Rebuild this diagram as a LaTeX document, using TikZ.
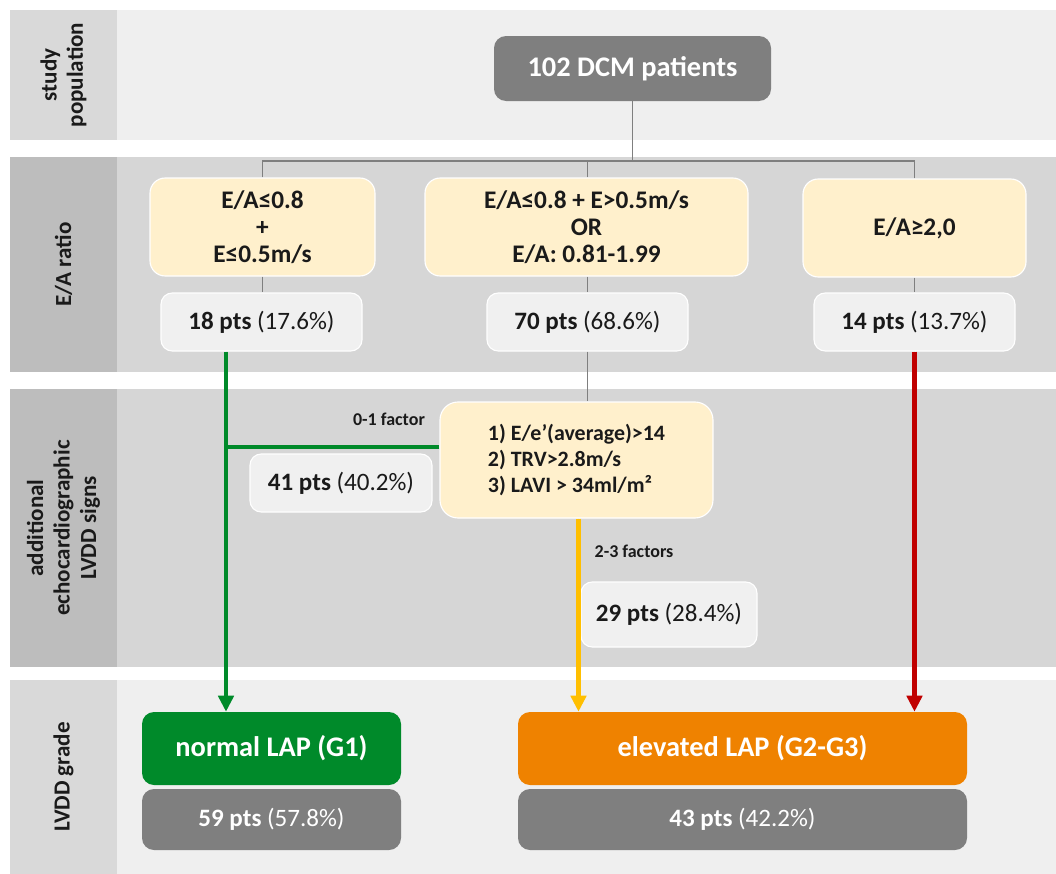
\documentclass[tikz,border=0pt]{standalone}
\usepackage{fontspec}
\setmainfont{Carlito}
\usepackage{xcolor}
\usetikzlibrary{arrows.meta}

\definecolor{laneLight}{HTML}{EFEFEF}
\definecolor{laneLightHead}{HTML}{D9D9D9}
\definecolor{laneDark}{HTML}{D6D6D6}
\definecolor{laneDarkHead}{HTML}{BDBDBD}
\definecolor{condYellow}{HTML}{FFF0CC}
\definecolor{countGray}{HTML}{F0F0F0}
\definecolor{boxGray}{HTML}{7F7F7F}
\definecolor{lapGreen}{HTML}{008A2A}
\definecolor{lapOrange}{HTML}{EF8200}
\definecolor{arrowYellow}{HTML}{FFBF00}
\definecolor{arrowRed}{HTML}{C00000}
\definecolor{textDark}{HTML}{1A1A1A}

\begin{document}
\begin{tikzpicture}
    \newcommand{\pts}[2]{\textbf{#1 pts} (#2\%)}
    \newcommand{\bigfont}{\fontsize{20.2}{23}\selectfont\bfseries}
    \newcommand{\condfont}{\fontsize{18}{19.2}\selectfont\bfseries}
    \newcommand{\critfont}{\fontsize{15.6}{18.5}\selectfont\bfseries}
    \newcommand{\ptsfont}{\fontsize{17.8}{20}\selectfont}
    \newcommand{\lanefont}{\fontsize{16.4}{18.8}\selectfont\bfseries}
    \tikzstyle{tree}  = [draw=boxGray, line width=0.9pt]
    \tikzstyle{flow}  = [line width=3pt, -{Triangle[length=0.4cm,width=0.38cm]}]
    \tikzstyle{lanelabel}=[
      rotate=90,
      align=center,
      text=textDark,
      font=\lanefont,
    ]
    \tikzstyle{cond}=[
      rectangle,
      rounded corners=0.38cm,
      draw=white,
      line width=0.8pt,
      fill=condYellow,
      anchor=center,
      align=center,
      text=textDark,
      font=\condfont,
      minimum height=2.45cm,
    ]
    \tikzstyle{count}=[
      rectangle,
      rounded corners=0.28cm,
      draw=white,
      line width=0.8pt,
      fill=countGray,
      anchor=center,
      text=textDark,
      font=\ptsfont,
      minimum width=5.025cm,
      minimum height=1.45cm,
    ]
    \tikzstyle{grade}=[
      rectangle,
      rounded corners=0.3cm,
      anchor=center,
      text=white,
      font=\bigfont,
      minimum height=1.825cm,
    ]
    \tikzstyle{total}=[
      grade,
      fill=boxGray,
      font=\ptsfont,
      minimum height=1.525cm,
    ]
    \tikzstyle{factor}=[
      text=textDark,
      font=\fontsize{12.8}{15}\selectfont\bfseries,
    ]

    \useasboundingbox (0,0) rectangle (26.4,-21.85);
    \coordinate (topAnchor) at (0,0);

    % lanes
    {
      \fill[laneLightHead] (0.25,-0.25) rectangle (2.925,-3.5);
      \fill[laneLight] (2.925,-0.25) rectangle (26.4,-3.5);
      \fill[laneDarkHead] (0.25,-3.925) rectangle (2.925,-9.3);
      \fill[laneDark] (2.925,-3.925) rectangle (26.4,-9.3);
      \fill[laneDarkHead] (0.25,-9.725) rectangle (2.925,-16.675);
      \fill[laneDark] (2.925,-9.725) rectangle (26.4,-16.675);
      \fill[laneLightHead] (0.25,-17.0) rectangle (2.925,-21.85);
      \fill[laneLight] (2.925,-17.0) rectangle (26.4,-21.85);

      \node[lanelabel] (lanePop) at ([xshift=1.5875cm, yshift=-1.875cm] topAnchor) {study\\population};
      \node[lanelabel] (laneRatio) at ([xshift=1.5875cm, yshift=-6.6125cm] topAnchor) {E/A ratio};
      \node[lanelabel] (laneSigns) at ([xshift=1.5875cm, yshift=-13.2cm] topAnchor) {additional\\echocardiographic\\LVDD signs};
      \node[lanelabel] (laneGrade) at ([xshift=1.5875cm, yshift=-19.425cm] topAnchor) {LVDD grade};
    }

    % study population
    {
      \node[grade, fill=boxGray, minimum width=6.925cm, minimum height=1.625cm] (patients) at ([xshift=15.8125cm, yshift=-1.7125cm] topAnchor) {102 DCM patients};
    }

    % E/A ratio
    {
      \node[cond, minimum width=5.625cm] (cond1) at ([xshift=6.5625cm, yshift=-5.675cm] topAnchor) {E/A≤0.8\\+\\E≤0.5m/s};
      \node[cond, minimum width=8.075cm] (cond2) at ([xshift=14.6625cm, yshift=-5.675cm] topAnchor) {E/A≤0.8 + E>0.5m/s\\OR\\E/A: 0.81-1.99};
      \node[cond, minimum width=5.575cm] (cond3) at ([xshift=22.8625cm, yshift=-5.7cm] topAnchor) {E/A≥2,0};

      \node[count] (count1) at ([xshift=6.5375cm, yshift=-8.05cm] topAnchor) {\pts{18}{17.6}};
      \node[count] (count2) at ([xshift=14.6875cm, yshift=-8.05cm] topAnchor) {\pts{70}{68.6}};
      \node[count] (count3) at ([xshift=22.8625cm, yshift=-8.05cm] topAnchor) {\pts{14}{13.7}};

      \coordinate (branch) at ([xshift=15.8125cm, yshift=-4.025cm] topAnchor);
      \draw[tree] (patients.south) -- (branch);
      \draw[tree] (cond1.north) |- (branch);
      \draw[tree] ([xshift=0.025cm] cond2.north) |- (branch);
      \draw[tree] (cond3.north) |- (branch);

      \draw[tree] (cond1.south) -- (cond1.south |- count1.north);
      \draw[tree] ([xshift=0.025cm] cond2.south) -- ([xshift=0.025cm] cond2.south |- count2.north);
      \draw[tree] (cond3.south) -- (cond3.south |- count3.north);
    }

    % additional signs
    {
      \node[cond, font=\critfont, align=left, minimum width=6.825cm, minimum height=2.9cm, rounded corners=0.45cm] (crit) at ([xshift=14.4125cm, yshift=-11.5cm] topAnchor) {1) E/e’(average)>14\\2) TRV>2.8m/s\\3) LAVI > 34ml/m²};
      \node[count, minimum width=4.55cm] (count41) at ([xshift=8.525cm, yshift=-12.075cm] topAnchor) {\pts{41}{40.2}};
      \node[count, minimum width=4.4cm, minimum height=1.625cm] (count29) at ([xshift=16.725cm, yshift=-15.3625cm] topAnchor) {\pts{29}{28.4}};
      \node[factor] (lowFactor) at ([xshift=9.725cm, yshift=-10.475cm] topAnchor) {0-1 factor};
      \node[factor] (highFactor) at ([xshift=15.85cm, yshift=-13.775cm] topAnchor) {2-3 factors};

      \draw[tree] (count2.south) -- (count2.south |- crit.north);
    }

    % LVDD grade
    {
      \node[grade, fill=lapGreen, minimum width=6.475cm] (normal) at ([xshift=6.7875cm, yshift=-18.7125cm] topAnchor) {normal LAP (G1)};
      \node[grade, fill=lapOrange, minimum width=11.225cm] (elevated) at ([xshift=18.5625cm, yshift=-18.7125cm] topAnchor) {elevated LAP (G2-G3)};
      \node[total, minimum width=6.475cm] (total1) at ([xshift=6.7875cm, yshift=-20.4875cm] topAnchor) {\pts{59}{57.8}};
      \node[total, minimum width=11.225cm] (total2) at ([xshift=18.5625cm, yshift=-20.4875cm] topAnchor) {\pts{43}{42.2}};
    }

    % arrows
    {
      \coordinate (greenStart) at ([xshift=-0.8875cm] count1.south);
      \coordinate (greenJoin) at ([yshift=0.325cm] crit.west);
      \draw[line width=3pt, draw=lapGreen] (greenJoin) -- (greenJoin -| greenStart);
      \draw[flow, draw=lapGreen, fill=lapGreen] (greenStart) -- (greenStart |- normal.north);
      \draw[flow, draw=arrowYellow, fill=arrowYellow] ([xshift=0.05cm] crit.south) -- ([xshift=0.05cm] crit.south |- elevated.north);
      \draw[flow, draw=arrowRed, fill=arrowRed] (count3.south) -- (count3.south |- elevated.north);
    }
\end{tikzpicture}
\end{document}
